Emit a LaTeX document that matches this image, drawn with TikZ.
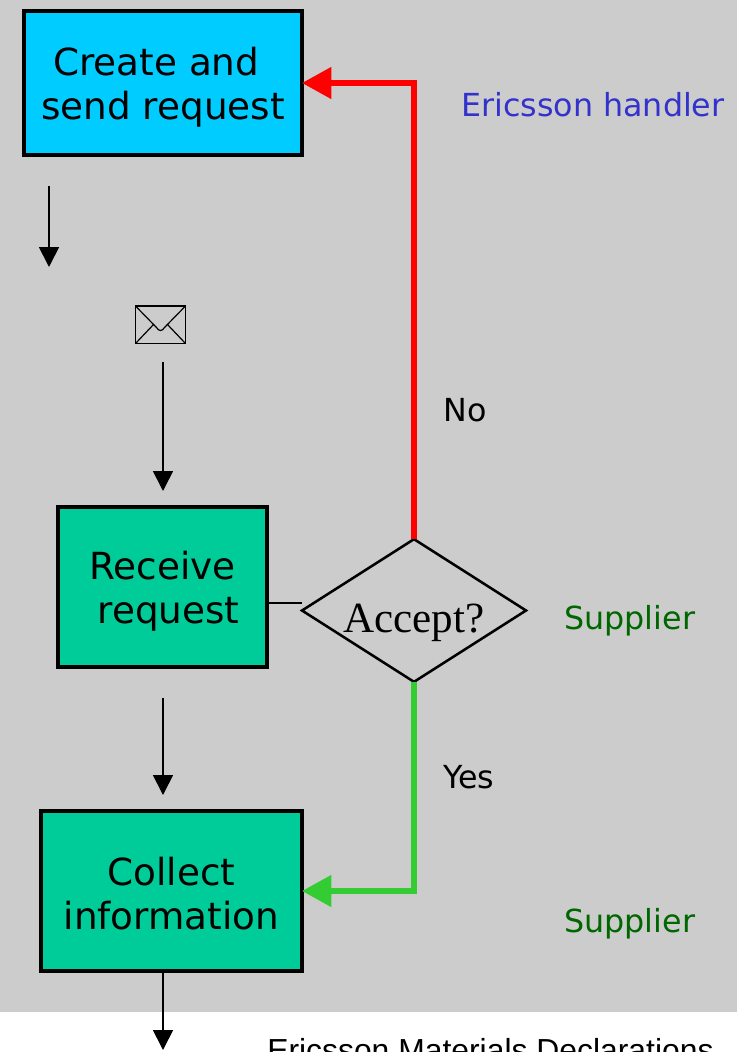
\documentclass[tikz,border=0pt]{standalone}
\usepackage{fontspec}
\setmainfont{DejaVu Sans}
\newfontfamily\serifface{Liberation Serif}
\newfontfamily\arialface{Liberation Sans}
\usetikzlibrary{shapes.geometric,arrows.meta}
\definecolor{greyback}{RGB}{204,204,204}
\definecolor{boxblue}{RGB}{0,204,255}
\definecolor{boxgreen}{RGB}{0,204,153}
\definecolor{labelblue}{RGB}{51,51,204}
\definecolor{labelgreen}{RGB}{0,102,0}
\definecolor{yesgreen}{RGB}{51,204,51}
\newcommand{\topgap}{\rule{0pt}{27pt}}
\tikzset{
  taskbox/.style={draw=black,line width=2.6pt,inner sep=0pt,outer sep=0pt,align=center,font=\fontsize{28}{33}\selectfont},
  thinarrow/.style={line width=1.3pt,-{Triangle[width=15pt,length=15pt]}},
  thickarrow/.style={line width=4.3pt,-{Triangle[width=23pt,length=22pt]}},
  sidelabel/.style={inner sep=0pt,anchor=base west,font=\fontsize{23.8}{28}\selectfont}
}
\begin{document}
\begin{tikzpicture}[x=0.75pt,y=0.75pt,yscale=-1,xscale=1]
  \useasboundingbox (0,0) rectangle (737,1052);
  \fill [greyback] (0,0) rectangle (737,1012);

  % process boxes
  \node [taskbox,fill=boxblue,minimum width=208.5pt,minimum height=108pt] (create) at (163,83) {\topgap Create and\hspace*{10pt}\\send request};
  \node [taskbox,fill=boxgreen,minimum width=156.75pt,minimum height=120pt] (receive) at (162.5,587) {\topgap Receive\\\hspace*{9pt}request};
  \node [taskbox,fill=boxgreen,minimum width=195.75pt,minimum height=120pt] (collect) at (171.5,891) {\topgap Collect\\information\rule[-3pt]{0pt}{3pt}};
  \node [draw=black,line width=1.9pt,shape=diamond,inner sep=0pt,outer sep=0pt,minimum width=168pt,minimum height=107pt,font=\serifface\fontsize{32.3}{34}\selectfont] (accept) at (414,610.5) {\smash{\raisebox{-16.5pt}{\makebox[0pt]{Accept?}}}};

  % decision arrows
  \draw [thickarrow,draw=red] (accept.north) |- (create.east);
  \draw [thickarrow,draw=yesgreen] (accept.south) |- (collect.east);
  \coordinate (linkl) at (receive.east |- 0,603);
  \coordinate (linkr) at (accept.west |- 0,603);
  \draw [line width=1.1pt] (linkl) -- (linkr);

  % loose arrows
  \coordinate (sendtop) at (49,186);
  \coordinate (sendend) at (49,267);
  \coordinate (mailtop) at (163,362);
  \coordinate (mailend) at (163,491);
  \coordinate (rectop) at (163,698);
  \coordinate (recend) at (163,795);
  \coordinate (colend) at (163,1050);
  \draw [thinarrow] (sendtop) -- (sendend);
  \draw [thinarrow] (mailtop) -- (mailend);
  \draw [thinarrow] (rectop) -- (recend);
  \draw [thinarrow] (collect.south -| colend) -- (colend);

  % envelope
  \draw [line width=1pt] (135.5,306) rectangle (185.5,343.5);
  \draw [line width=0.9pt] (135.5,306) -- (156,327) .. controls (158,329.5) and (159,330.5) .. (160.5,330.5) .. controls (162,330.5) and (163,329.5) .. (165,327) -- (185.5,306);
  \draw [line width=0.9pt] (135.5,343.5) -- (154,324);
  \draw [line width=0.9pt] (185.5,343.5) -- (167,324);

  % labels
  \node [sidelabel,text=labelblue] (handler) at (461,116.5) {Ericsson handler};
  \node [sidelabel] (no) at (443,421) {No};
  \node [sidelabel] (yes) at (443,788) {Yes};
  \node [sidelabel,text=labelgreen] (supone) at (564,629) {Supplier};
  \node [sidelabel,text=labelgreen] (suptwo) at (564,932) {Supplier};
  \node [inner sep=0pt,anchor=base west,font=\arialface\fontsize{23.9}{28}\selectfont] (footer) at (267,1061) {Ericsson Materials Declarations};
\end{tikzpicture}
\end{document}
